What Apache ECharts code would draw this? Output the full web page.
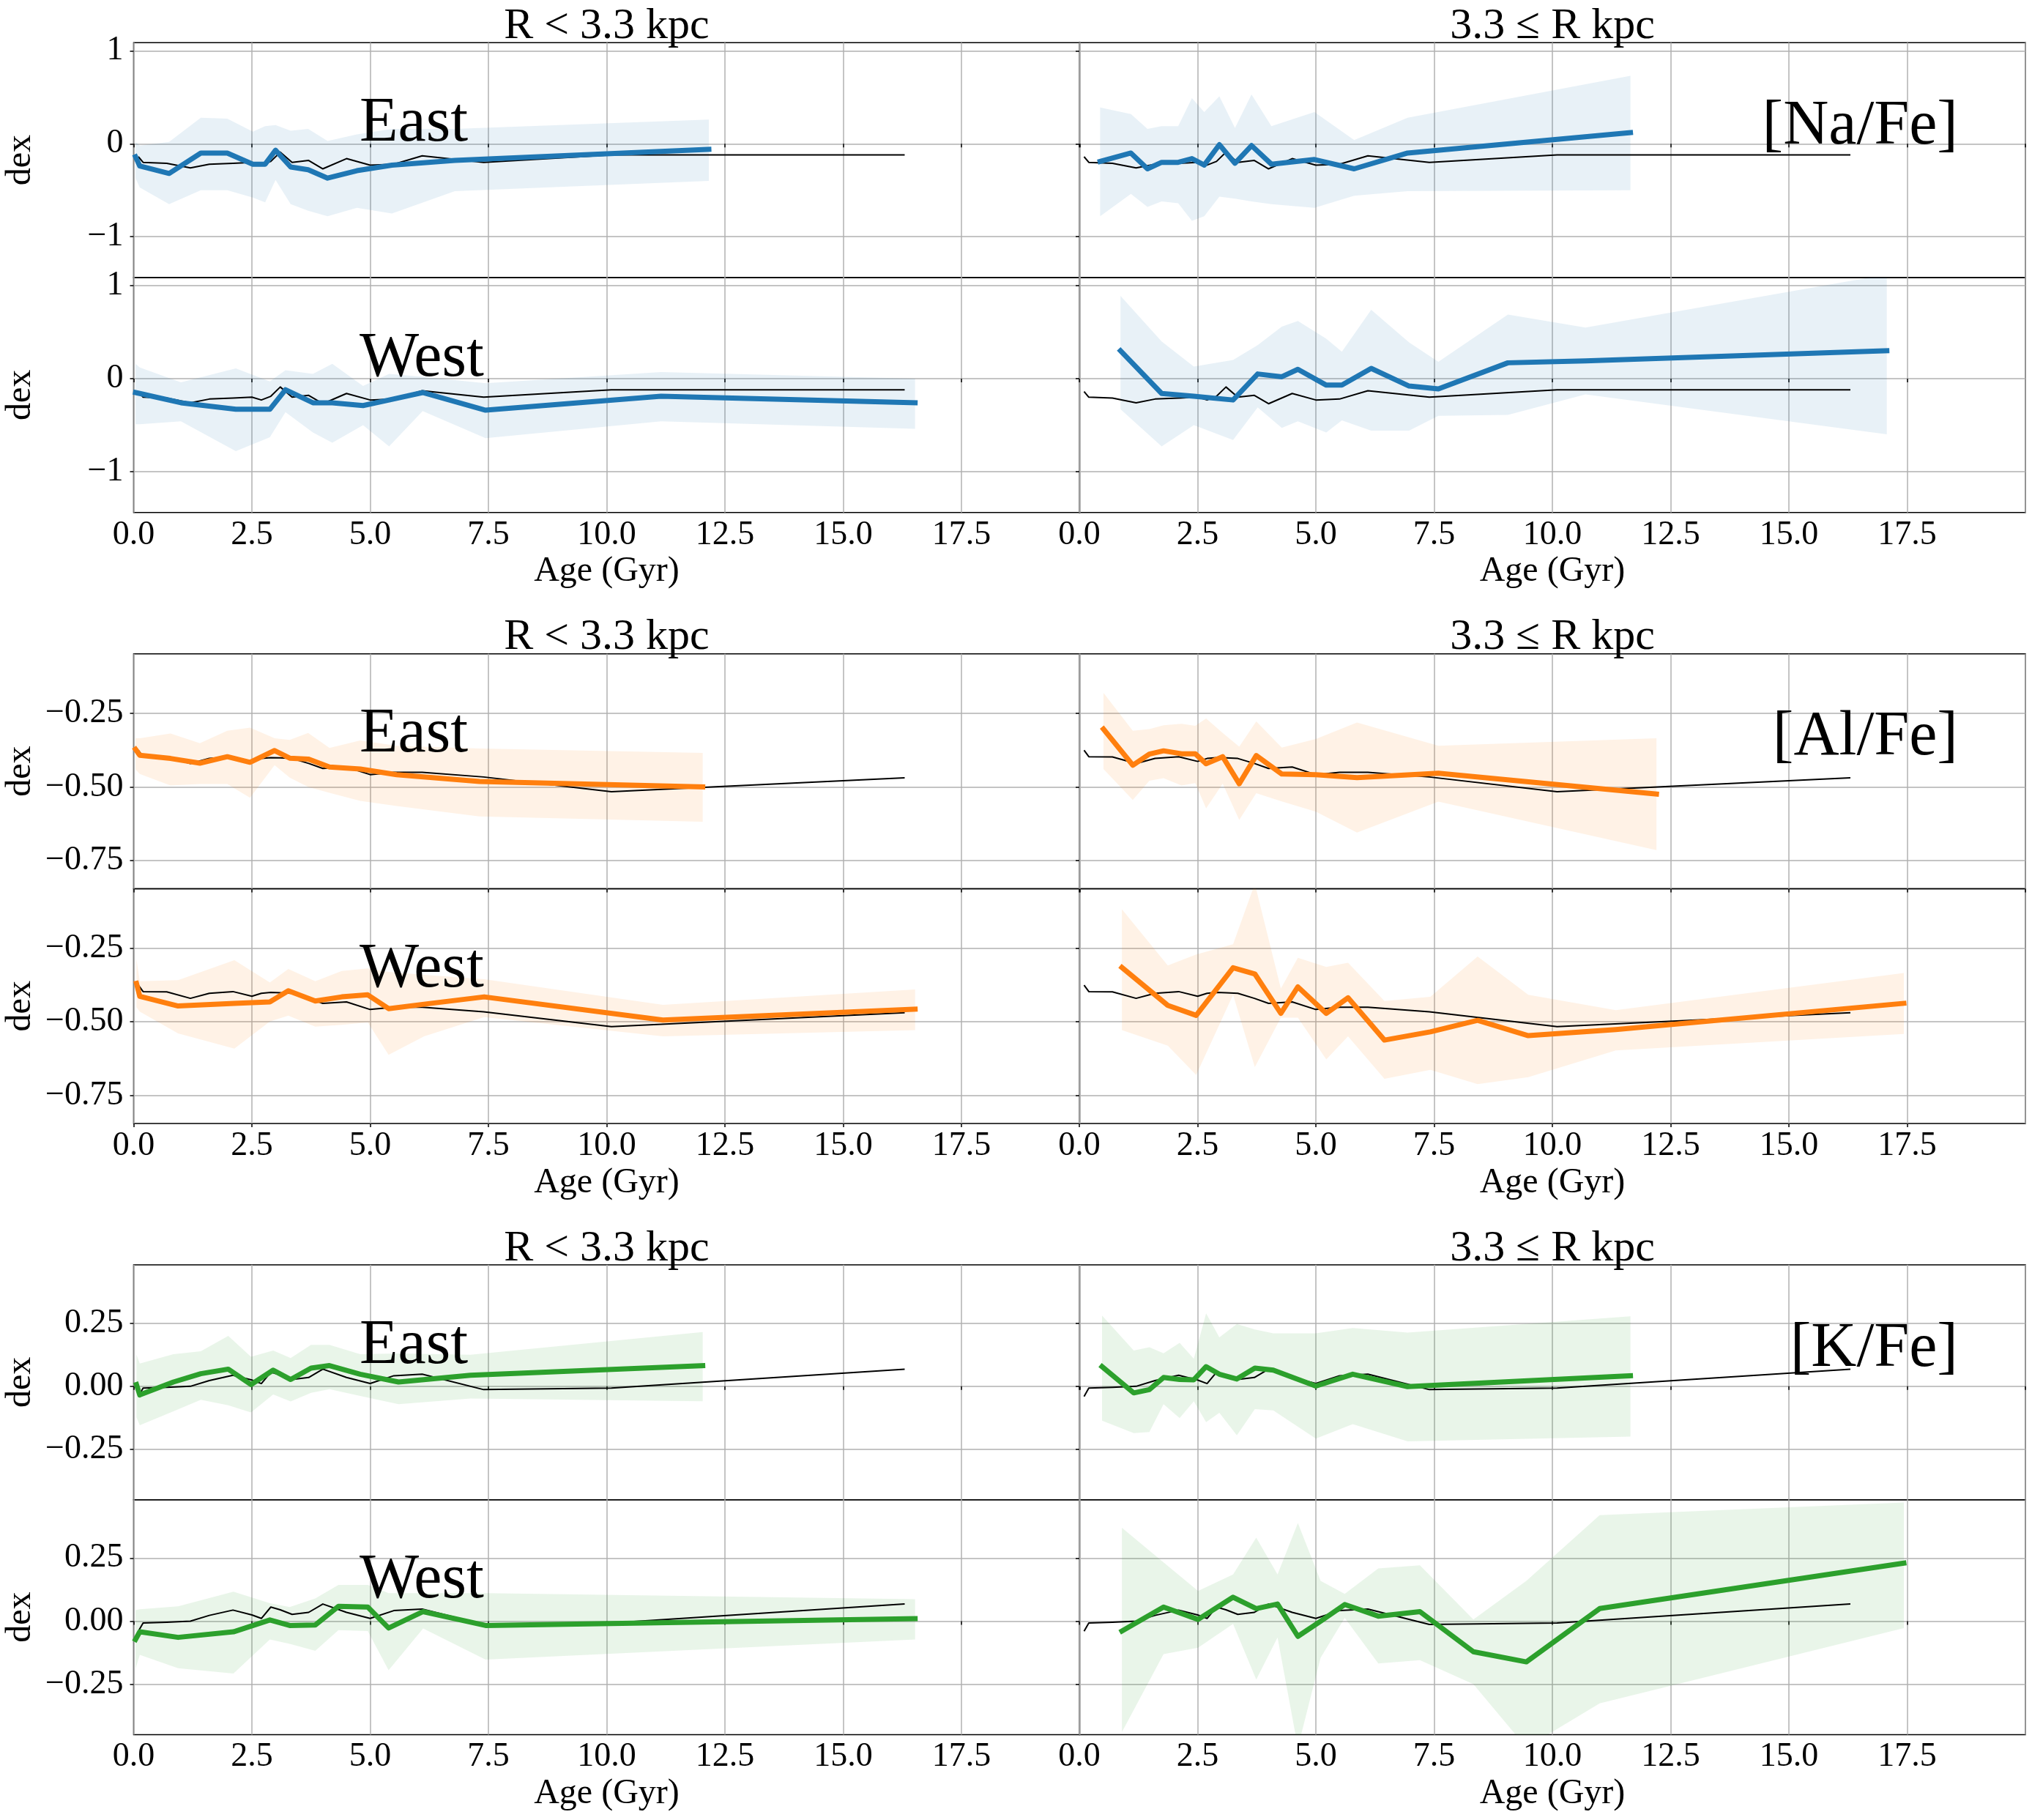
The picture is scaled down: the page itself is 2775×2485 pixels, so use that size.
<!DOCTYPE html>
<html>
<head>
<meta charset="utf-8">
<script src="https://cdn.jsdelivr.net/npm/echarts@6/dist/echarts.min.js"></script>
<style>
  html, body { margin: 0; padding: 0; background: #fff; }
  #chart { width: 2775px; height: 2485px; }
</style>
</head>
<body>
<div id="chart"></div>
<script>
// reference trend (all stars), same in every panel of an element
var refAge = [0.1, 0.2, 0.7, 1.2, 1.6, 2.1, 2.5, 2.7, 2.9, 3.1, 3.35, 3.7, 4.0, 4.5, 5.0, 5.5, 6.1, 7.4, 10.1, 16.3];
var naRef = [-0.14, -0.20, -0.21, -0.26, -0.22, -0.21, -0.20, -0.23, -0.19, -0.09, -0.20, -0.18, -0.27, -0.16, -0.23, -0.22, -0.13, -0.20, -0.12, -0.12];
var alRef = [-0.375, -0.397, -0.398, -0.42, -0.403, -0.397, -0.413, -0.403, -0.40, -0.401, -0.403, -0.42, -0.437, -0.432, -0.458, -0.45, -0.45, -0.466, -0.516, -0.469];
var kRef = [-0.04, -0.007, -0.004, 0.0, 0.023, 0.044, 0.025, 0.011, 0.056, 0.045, 0.027, 0.035, 0.068, 0.035, 0.011, 0.042, 0.048, -0.013, -0.007, 0.068];

// [Na/Fe]
var naEastInAge = [0.04, 0.13, 0.75, 1.42, 1.98, 2.52, 2.78, 3.0, 3.32, 3.69, 4.10, 4.72, 5.46, 6.79, 12.16];
var naEastInMed = [-0.14, -0.24, -0.32, -0.10, -0.10, -0.22, -0.22, -0.07, -0.25, -0.28, -0.37, -0.29, -0.23, -0.18, -0.06];
var naEastInLo = [-0.37, -0.47, -0.65, -0.50, -0.50, -0.58, -0.63, -0.39, -0.65, -0.72, -0.78, -0.69, -0.75, -0.51, -0.40];
var naEastInHi = [0.02, -0.02, 0.02, 0.28, 0.27, 0.13, 0.19, 0.20, 0.14, 0.16, 0.03, 0.10, 0.16, 0.16, 0.26];

var naWestInAge = [0.04, 0.13, 1.0, 2.16, 2.88, 3.21, 3.79, 4.20, 4.85, 5.40, 6.11, 7.44, 11.15, 16.52];
var naWestInMed = [-0.15, -0.16, -0.26, -0.33, -0.33, -0.12, -0.26, -0.26, -0.29, -0.23, -0.15, -0.34, -0.19, -0.26];
var naWestInLo = [-0.49, -0.49, -0.46, -0.78, -0.63, -0.36, -0.58, -0.69, -0.50, -0.73, -0.35, -0.64, -0.46, -0.54];
var naWestInHi = [0.16, 0.12, -0.04, 0.11, -0.03, 0.09, 0.05, 0.16, -0.08, 0.05, 0.02, -0.05, 0.07, 0.0];

var naEastOutAge = [0.44, 1.09, 1.44, 1.74, 2.09, 2.38, 2.64, 2.96, 3.29, 3.64, 4.06, 4.97, 5.81, 6.94, 11.65];
var naEastOutMed = [-0.19, -0.10, -0.27, -0.20, -0.20, -0.16, -0.23, -0.01, -0.21, -0.02, -0.22, -0.17, -0.27, -0.10, 0.12];
var naEastOutLo = [-0.78, -0.54, -0.68, -0.62, -0.64, -0.83, -0.78, -0.57, -0.59, -0.62, -0.65, -0.69, -0.56, -0.51, -0.50];
var naEastOutHi = [0.39, 0.32, 0.16, 0.19, 0.19, 0.49, 0.34, 0.51, 0.17, 0.53, 0.19, 0.34, 0.04, 0.28, 0.73];

var naWestOutAge = [0.87, 1.74, 2.42, 3.25, 3.77, 4.28, 4.62, 5.22, 5.55, 6.17, 6.97, 7.59, 9.06, 10.7, 17.07];
var naWestOutMed = [0.30, -0.16, -0.19, -0.23, 0.05, 0.02, 0.10, -0.07, -0.07, 0.11, -0.08, -0.11, 0.17, 0.19, 0.30];
var naWestOutLo = [-0.33, -0.73, -0.50, -0.66, -0.31, -0.53, -0.46, -0.58, -0.45, -0.56, -0.56, -0.40, -0.39, -0.17, -0.60];
var naWestOutHi = [0.89, 0.40, 0.13, 0.20, 0.36, 0.56, 0.62, 0.43, 0.29, 0.74, 0.39, 0.18, 0.69, 0.55, 1.12];

// [Al/Fe]
var alEastInAge = [0.04, 0.13, 0.78, 1.40, 1.98, 2.46, 2.98, 3.30, 3.69, 4.14, 4.79, 5.56, 7.31, 12.03];
var alEastInMed = [-0.372, -0.392, -0.403, -0.419, -0.397, -0.416, -0.376, -0.402, -0.405, -0.432, -0.439, -0.458, -0.481, -0.50];
var alEastInLo = [-0.44, -0.456, -0.495, -0.49, -0.49, -0.537, -0.426, -0.468, -0.50, -0.52, -0.547, -0.565, -0.60, -0.618];
var alEastInHi = [-0.334, -0.334, -0.318, -0.351, -0.309, -0.298, -0.334, -0.340, -0.316, -0.367, -0.342, -0.36, -0.369, -0.384];

var alWestInAge = [0.06, 0.13, 0.94, 2.13, 2.88, 3.27, 3.84, 4.40, 4.95, 5.39, 6.14, 7.41, 11.19, 16.52];
var alWestInMed = [-0.369, -0.413, -0.446, -0.437, -0.432, -0.394, -0.429, -0.415, -0.408, -0.455, -0.44, -0.415, -0.494, -0.457];
var alWestInLo = [-0.45, -0.465, -0.539, -0.591, -0.499, -0.479, -0.516, -0.51, -0.502, -0.612, -0.549, -0.484, -0.549, -0.528];
var alWestInHi = [-0.287, -0.362, -0.358, -0.29, -0.366, -0.32, -0.362, -0.327, -0.318, -0.33, -0.34, -0.355, -0.442, -0.39];

var alEastOutAge = [0.51, 1.13, 1.48, 1.78, 2.16, 2.45, 2.68, 3.03, 3.38, 3.74, 4.28, 5.0, 5.87, 7.59, 12.2];
var alEastOutMed = [-0.303, -0.426, -0.388, -0.377, -0.387, -0.387, -0.421, -0.397, -0.489, -0.393, -0.456, -0.458, -0.468, -0.453, -0.524];
var alEastOutLo = [-0.439, -0.544, -0.479, -0.47, -0.495, -0.487, -0.573, -0.489, -0.612, -0.521, -0.549, -0.584, -0.655, -0.55, -0.715];
var alEastOutHi = [-0.18, -0.309, -0.303, -0.29, -0.285, -0.292, -0.267, -0.316, -0.363, -0.277, -0.366, -0.337, -0.281, -0.36, -0.334];

var alWestOutAge = [0.90, 1.87, 2.47, 3.25, 3.71, 4.26, 4.62, 5.22, 5.68, 6.45, 7.42, 8.42, 9.49, 11.34, 17.43];
var alWestOutMed = [-0.315, -0.444, -0.478, -0.316, -0.337, -0.471, -0.381, -0.471, -0.418, -0.562, -0.534, -0.495, -0.547, -0.526, -0.437];
var alWestOutLo = [-0.528, -0.581, -0.681, -0.408, -0.654, -0.486, -0.486, -0.628, -0.549, -0.694, -0.663, -0.712, -0.688, -0.597, -0.541];
var alWestOutHi = [-0.117, -0.308, -0.271, -0.236, -0.03, -0.387, -0.282, -0.313, -0.299, -0.429, -0.415, -0.278, -0.408, -0.46, -0.334];

// [K/Fe]
var kEastInAge = [0.06, 0.13, 0.84, 1.42, 2.0, 2.48, 2.95, 3.32, 3.75, 4.14, 4.79, 5.60, 7.12, 12.03];
var kEastInMed = [0.007, -0.034, 0.017, 0.05, 0.068, 0.007, 0.064, 0.027, 0.072, 0.082, 0.048, 0.017, 0.044, 0.082];
var kEastInLo = [-0.123, -0.154, -0.099, -0.053, -0.075, -0.103, -0.032, -0.06, -0.026, -0.011, -0.038, -0.071, -0.048, -0.059];
var kEastInHi = [0.125, 0.09, 0.127, 0.139, 0.20, 0.117, 0.142, 0.112, 0.164, 0.164, 0.127, 0.13, 0.125, 0.215];

var kWestInAge = [0.04, 0.13, 0.94, 2.11, 2.88, 3.30, 3.84, 4.33, 4.95, 5.39, 6.12, 7.44, 16.52];
var kWestInMed = [-0.072, -0.042, -0.064, -0.042, 0.005, -0.017, -0.015, 0.059, 0.056, -0.027, 0.038, -0.017, 0.01];
var kWestInLo = [-0.188, -0.133, -0.186, -0.207, -0.072, -0.09, -0.117, -0.035, -0.039, -0.194, -0.029, -0.152, -0.072];
var kWestInHi = [0.044, 0.047, 0.059, 0.117, 0.071, 0.056, 0.09, 0.144, 0.144, 0.111, 0.111, 0.111, 0.087];

var kEastOutAge = [0.48, 1.15, 1.48, 1.78, 2.12, 2.42, 2.68, 2.96, 3.33, 3.71, 4.10, 5.0, 5.78, 6.94, 11.65];
var kEastOutMed = [0.078, -0.026, -0.013, 0.035, 0.027, 0.026, 0.078, 0.048, 0.029, 0.072, 0.064, 0.001, 0.048, -0.001, 0.042];
var kEastOutLo = [-0.136, -0.185, -0.181, -0.071, -0.126, -0.059, -0.142, -0.105, -0.194, -0.09, -0.095, -0.207, -0.15, -0.218, -0.199];
var kEastOutHi = [0.28, 0.142, 0.155, 0.131, 0.172, 0.109, 0.289, 0.194, 0.247, 0.225, 0.21, 0.21, 0.231, 0.213, 0.277];

var kWestOutAge = [0.90, 1.78, 2.51, 3.25, 3.74, 4.19, 4.62, 5.10, 5.61, 6.32, 7.20, 8.33, 9.45, 11.0, 17.43];
var kWestOutMed = [-0.039, 0.056, 0.007, 0.095, 0.05, 0.068, -0.06, 0.0, 0.066, 0.02, 0.038, -0.121, -0.161, 0.05, 0.23];
var kWestOutLo = [-0.439, -0.13, -0.105, -0.011, -0.231, -0.064, -0.50, -0.145, 0.013, -0.167, -0.154, -0.249, -0.50, -0.325, -0.027];
var kWestOutHi = [0.37, 0.233, 0.12, 0.185, 0.331, 0.185, 0.389, 0.16, 0.108, 0.209, 0.221, 0.007, 0.16, 0.42, 0.47];

// axis ticks and labels
var naTicks = [-1, 0, 1];
var alTicks = [-0.75, -0.5, -0.25];
var kTicks = [-0.25, 0, 0.25];
var colTitles = ["R < 3.3 kpc", "3.3 \u2264 R kpc"];
var rowNames = ["East", "West"];

var FONT = "'Liberation Serif', 'Times New Roman', serif";
var colLeft = [182.5, 1474];
var panelW = 1292;
var panelH = 320.7;
var groupTop = [58.3, 892.7, 1727];

var elements = [
  { label: "[Na/Fe]", ref: naRef, color: "#1f77b4", fill: "rgba(31,119,180,0.1)", min: -1.44, max: 1.087, ticks: naTicks, dec: 0 },
  { label: "[Al/Fe]", ref: alRef, color: "#ff7f0e", fill: "rgba(255,127,14,0.1)", min: -0.846, max: -0.047, ticks: alTicks, dec: 2 },
  { label: "[K/Fe]", ref: kRef, color: "#2ca02c", fill: "rgba(44,160,44,0.1)", min: -0.449, max: 0.481, ticks: kTicks, dec: 2 }
];

// el, row (0 East / 1 West), col (0 inner / 1 outer)
var panels = [
  { el: 0, row: 0, col: 0, age: naEastInAge, med: naEastInMed, lo: naEastInLo, hi: naEastInHi },
  { el: 0, row: 0, col: 1, age: naEastOutAge, med: naEastOutMed, lo: naEastOutLo, hi: naEastOutHi },
  { el: 0, row: 1, col: 0, age: naWestInAge, med: naWestInMed, lo: naWestInLo, hi: naWestInHi },
  { el: 0, row: 1, col: 1, age: naWestOutAge, med: naWestOutMed, lo: naWestOutLo, hi: naWestOutHi },
  { el: 1, row: 0, col: 0, age: alEastInAge, med: alEastInMed, lo: alEastInLo, hi: alEastInHi },
  { el: 1, row: 0, col: 1, age: alEastOutAge, med: alEastOutMed, lo: alEastOutLo, hi: alEastOutHi },
  { el: 1, row: 1, col: 0, age: alWestInAge, med: alWestInMed, lo: alWestInLo, hi: alWestInHi },
  { el: 1, row: 1, col: 1, age: alWestOutAge, med: alWestOutMed, lo: alWestOutLo, hi: alWestOutHi },
  { el: 2, row: 0, col: 0, age: kEastInAge, med: kEastInMed, lo: kEastInLo, hi: kEastInHi },
  { el: 2, row: 0, col: 1, age: kEastOutAge, med: kEastOutMed, lo: kEastOutLo, hi: kEastOutHi },
  { el: 2, row: 1, col: 0, age: kWestInAge, med: kWestInMed, lo: kWestInLo, hi: kWestInHi },
  { el: 2, row: 1, col: 1, age: kWestOutAge, med: kWestOutMed, lo: kWestOutLo, hi: kWestOutHi }
];

function minusFmt(dec) {
  return function (v) {
    var s = Math.abs(v).toFixed(dec);
    return v < 0 ? "\u2212" + s : s;
  };
}

var grids = [], xAxes = [], yAxes = [], series = [], graphics = [];

panels.forEach(function (p, i) {
  var el = elements[p.el];
  var top = groupTop[p.el] + p.row * panelH;
  grids.push({
    left: colLeft[p.col], top: top, width: panelW, height: panelH,
    show: true, borderColor: "#000", borderWidth: 1.5, backgroundColor: "transparent"
  });
  xAxes.push({
    gridIndex: i, type: "value", min: 0, max: 20, interval: 2.5,
    axisLine: { show: false },
    axisTick: { show: true, length: 5, lineStyle: { color: "#000", width: 1.5 } },
    axisLabel: {
      show: p.row === 1, margin: 8, fontSize: 46, fontFamily: FONT, color: "#000",
      showMaxLabel: false,
      formatter: function (v) { return v.toFixed(1); }
    },
    splitLine: { show: true, lineStyle: { color: "#b0b0b0", width: 1.5 } },
    name: p.row === 1 ? "Age (Gyr)" : "",
    nameLocation: "middle", nameGap: 57,
    nameTextStyle: { fontSize: 48, fontFamily: FONT, color: "#000" }
  });
  yAxes.push({
    gridIndex: i, type: "value", min: el.min, max: el.max,
    axisLine: { show: false },
    axisTick: { show: true, length: 5, customValues: el.ticks, lineStyle: { color: "#000", width: 1.5 } },
    axisLabel: {
      show: p.col === 0, customValues: el.ticks, margin: 14,
      fontSize: 46, fontFamily: FONT, color: "#000",
      formatter: minusFmt(el.dec)
    },
    splitLine: { show: true, lineStyle: { color: "#b0b0b0", width: 1.5 } },
    name: p.col === 0 ? "dex" : "",
    nameLocation: "middle", nameGap: 130, nameRotate: 90,
    nameTextStyle: { fontSize: 48, fontFamily: FONT, color: "#000" }
  });

  // shaded spread between lo and hi
  series.push({
    type: "custom", xAxisIndex: i, yAxisIndex: i, clip: true, silent: true, z: 1,
    data: p.age.map(function (a, k) { return [a, p.lo[k], p.hi[k]]; }),
    renderItem: function (params, api) {
      if (params.dataIndex !== 0) return null;
      var pts = [];
      for (var k = 0; k < p.age.length; k++) pts.push(api.coord([p.age[k], p.hi[k]]));
      for (var k2 = p.age.length - 1; k2 >= 0; k2--) pts.push(api.coord([p.age[k2], p.lo[k2]]));
      return { type: "polygon", shape: { points: pts }, style: { fill: el.fill } };
    }
  });
  // reference trend
  series.push({
    type: "line", xAxisIndex: i, yAxisIndex: i, z: 3, symbol: "none", silent: true,
    data: refAge.map(function (a, k) { return [a, el.ref[k]]; }),
    lineStyle: { color: "#000", width: 2, join: "round" }
  });
  // median trend
  series.push({
    type: "line", xAxisIndex: i, yAxisIndex: i, z: 4, symbol: "none", silent: true,
    data: p.age.map(function (a, k) { return [a, p.med[k]]; }),
    lineStyle: { color: el.color, width: 7, join: "round", cap: "square" }
  });

  if (p.col === 0) {
    graphics.push({
      type: "text", x: 491, y: top + 111, z: 10,
      style: { text: rowNames[p.row], fontSize: 86, fontFamily: FONT, fill: "#000", align: "left", verticalAlign: "middle" }
    });
  }
});

elements.forEach(function (el, e) {
  var gt = groupTop[e];
  colTitles.forEach(function (t, c) {
    graphics.push({
      type: "text", x: colLeft[c] + panelW / 2, y: gt - 22, z: 10,
      style: { text: t, fontSize: 60, fontFamily: FONT, fill: "#000", align: "center", verticalAlign: "middle" }
    });
  });
  graphics.push({
    type: "text", x: 2674, y: gt + 115, z: 10,
    style: { text: el.label, fontSize: 86, fontFamily: FONT, fill: "#000", align: "right", verticalAlign: "middle" }
  });
});

var myChart = echarts.init(document.getElementById("chart"), null, { renderer: "canvas" });
myChart.setOption({
  animation: false,
  backgroundColor: "#fff",
  grid: grids,
  xAxis: xAxes,
  yAxis: yAxes,
  series: series,
  graphic: graphics
});
</script>
</body>
</html>
